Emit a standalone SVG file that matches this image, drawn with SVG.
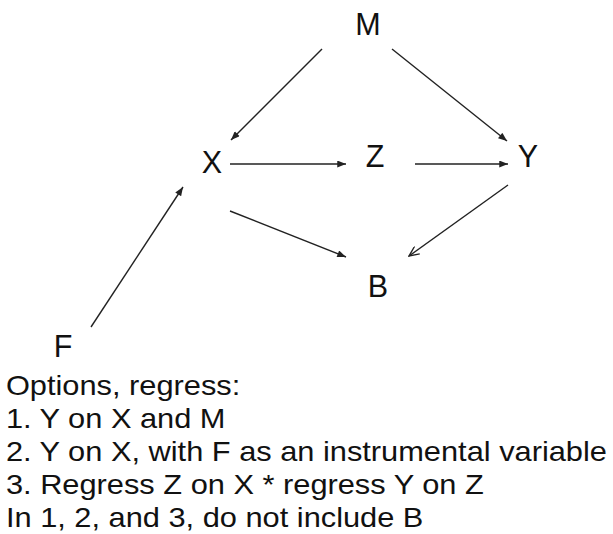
<svg xmlns="http://www.w3.org/2000/svg" width="613" height="534" viewBox="0 0 613 534">
<defs>
<style>
text{font-family:"Liberation Sans",Arial,sans-serif;fill:#111;font-size:30.5px}
.n{text-anchor:middle}
.t{font-size:28.5px}
.e{stroke:#222;stroke-width:1.4;fill:none}
</style>
<marker id="a" viewBox="0 0 10 8" refX="10" refY="4" markerWidth="10" markerHeight="7" markerUnits="userSpaceOnUse" orient="auto"><path d="M0,0L10,4L0,8z" fill="#222"/></marker>
<marker id="o" viewBox="0 0 12 10" refX="11" refY="5" markerWidth="12" markerHeight="10" markerUnits="userSpaceOnUse" orient="auto"><path d="M1,0.5L11,5L1,9.5" fill="none" stroke="#222" stroke-width="1.4"/></marker>
</defs>
<rect width="613" height="534" fill="#fff"/>
<g id="connectors">
<line class="e" x1="322" y1="49" x2="231" y2="140" marker-end="url(#a)"/>
<line class="e" x1="392" y1="49" x2="507" y2="141" marker-end="url(#a)"/>
<line class="e" x1="230" y1="164" x2="346" y2="164" marker-end="url(#a)"/>
<line class="e" x1="415" y1="164" x2="508" y2="164" marker-end="url(#a)"/>
<line class="e" x1="91" y1="327" x2="183" y2="187" marker-end="url(#a)"/>
<line class="e" x1="230" y1="211" x2="346" y2="257" marker-end="url(#a)"/>
<line class="e" x1="508" y1="185" x2="409" y2="256" marker-end="url(#o)"/>
</g>
<g id="node-M"><text class="n" x="368" y="35">M</text></g>
<g id="node-X"><text class="n" x="212" y="173">X</text></g>
<g id="node-Z"><text class="n" x="375" y="167">Z</text></g>
<g id="node-Y"><text class="n" x="528" y="167">Y</text></g>
<g id="node-B"><text class="n" x="378" y="297">B</text></g>
<g id="node-F"><text class="n" x="63" y="357">F</text></g>
<g id="notes" transform="scale(1.08,1)">
<text class="t" x="5.5" y="395">Options, regress:</text>
<text class="t" x="5.5" y="428">1. Y on X and M</text>
<text class="t" x="5.5" y="461">2. Y on X, with F as an instrumental variable</text>
<text class="t" x="5.5" y="494">3. Regress Z on X * regress Y on Z</text>
<text class="t" x="5.5" y="527">In 1, 2, and 3, do not include B</text>
</g>
</svg>
